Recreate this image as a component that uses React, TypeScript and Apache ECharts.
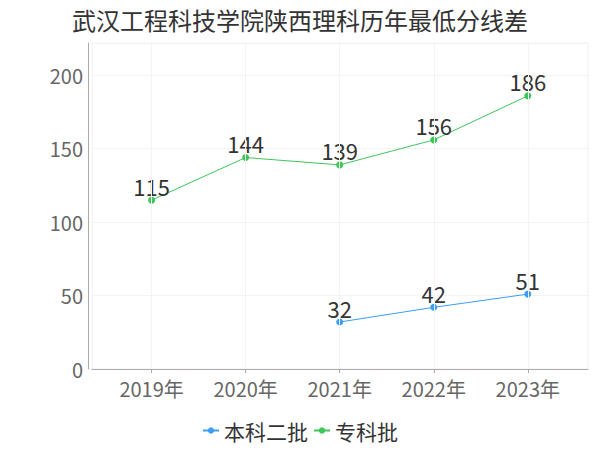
import React, { useEffect, useRef } from "react";
import * as echarts from "echarts";

const years = [2019, 2020, 2021, 2022, 2023];
const benke2 = [null, null, 32, 42, 51];
const zhuanke = [115, 144, 139, 156, 186];
const seriesNames = ["本科二批", "专科批"];

export default function App() {
  const ref = useRef<HTMLDivElement>(null);
  useEffect(() => {
    if (!ref.current) return;
    const chart = echarts.init(ref.current, null, { renderer: "svg" });
    const cjk = "'Noto Sans CJK SC', sans-serif";
    const toPairs = (arr: (number | null)[]) =>
      years.map((y, i) => [y, arr[i]]).filter((p) => p[1] !== null);
    chart.setOption({
      animation: false,
      textStyle: { fontFamily: cjk },
      title: {
        text: "武汉工程科技学院陕西理科历年最低分线差",
        left: "center",
        top: 2,
        textStyle: { fontSize: 24, fontWeight: "normal", color: "#333", fontFamily: cjk },
      },
      legend: {
        bottom: 4,
        left: "center",
        itemWidth: 16,
        itemHeight: 8,
        itemGap: 5,
        textStyle: { fontSize: 21, color: "#333", fontFamily: cjk },
        data: seriesNames,
      },
      grid: {
        left: 92,
        right: 12,
        top: 43,
        bottom: 81,
        show: true,
        borderColor: "#f0f0f0",
        borderWidth: 1,
      },
      xAxis: {
        type: "value",
        min: 2018.366,
        max: 2023.64,
        offset: 3,
        axisLine: { show: true, lineStyle: { color: "#aaa" } },
        axisTick: { show: true, customValues: years, length: 4, lineStyle: { color: "#aaa" } },
        axisLabel: {
          customValues: years,
          formatter: (v: number) => `${v}年`,
          fontSize: 20,
          color: "#666",
          margin: 6,
          fontFamily: cjk,
        },
        splitLine: { show: false },
      },
      yAxis: {
        type: "value",
        min: 0,
        max: 222,
        interval: 50,
        offset: 4,
        axisLine: { show: true, lineStyle: { color: "#aaa" } },
        axisTick: { show: false },
        axisLabel: {
          fontSize: 20,
          color: "#666",
          margin: 5,
          showMaxLabel: false,
          fontFamily: cjk,
        },
        splitLine: { show: true, lineStyle: { color: "#f3f3f3" } },
      },
      series: [
        {
          name: seriesNames[0],
          type: "line",
          data: toPairs(benke2),
          color: "#3a9ff5",
          symbol: "circle",
          symbolSize: 7,
          lineStyle: { width: 1 },
          label: { show: true, position: "top", fontSize: 22, color: "#333", distance: 0, fontFamily: cjk },
          markLine: {
            silent: true,
            symbol: "none",
            label: { show: false },
            lineStyle: { color: "#f3f3f3", type: "solid", width: 1 },
            data: years.map((y) => ({ xAxis: y })),
          },
        },
        {
          name: seriesNames[1],
          type: "line",
          data: toPairs(zhuanke),
          color: "#3fc65a",
          symbol: "circle",
          symbolSize: 7,
          lineStyle: { width: 1 },
          label: { show: true, position: "top", fontSize: 22, color: "#333", distance: 0, fontFamily: cjk },
        },
      ],
    });
    return () => chart.dispose();
  }, []);
  return (
    <div
      ref={ref}
      style={{ position: "absolute", left: 0, top: 0, width: 600, height: 450 }}
    />
  );
}
